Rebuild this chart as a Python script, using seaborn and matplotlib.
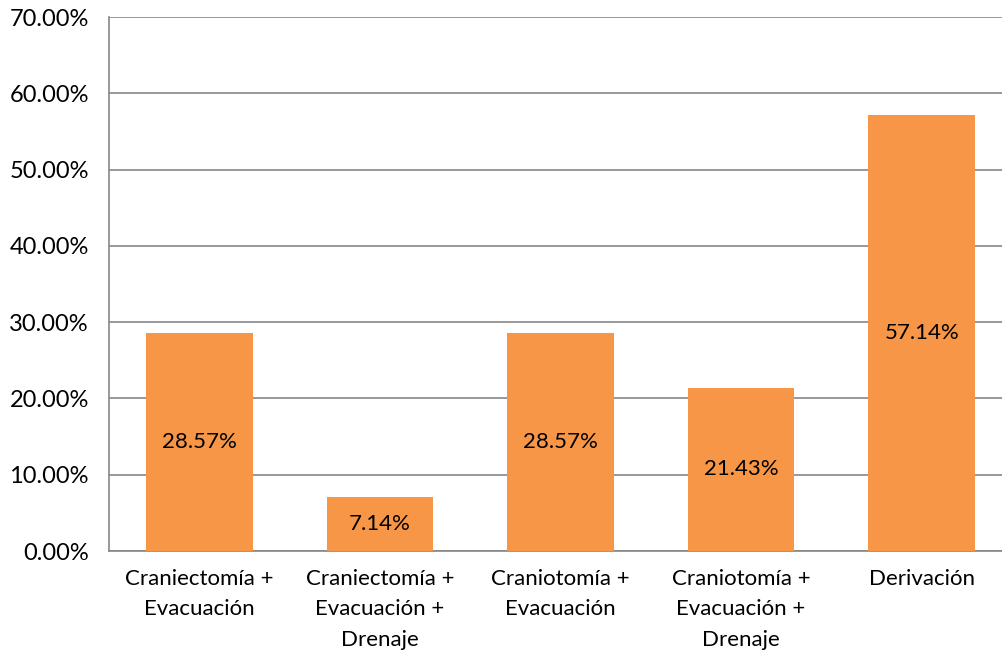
import matplotlib
matplotlib.use("Agg")
import matplotlib.pyplot as plt
import seaborn as sns
import pandas as pd
from matplotlib.ticker import FixedLocator, PercentFormatter

categories = ["Craniectomía +\nEvacuación",
              "Craniectomía +\nEvacuación +\nDrenaje",
              "Craniotomía +\nEvacuación",
              "Craniotomía +\nEvacuación +\nDrenaje",
              "Derivación"]
values = [28.57, 7.14, 28.57, 21.43, 57.14]

df = pd.DataFrame({"cat": categories, "pct": values})

sns.set_theme(style="white")
plt.rcParams["font.family"] = ["Lato", "DejaVu Sans"]

fig = plt.figure(figsize=(10.03, 6.59), dpi=100)
ax = fig.add_axes([109 / 1003, 108 / 659, (1003 - 109) / 1003, 534 / 659])

sns.barplot(data=df, x="cat", y="pct", color="#F79646", saturation=1,
            width=0.59, linewidth=0, ax=ax, zorder=3)

for i, v in enumerate(values):
    ax.text(i, v / 2, f"{v:.2f}%", ha="center", va="center",
            fontsize=16, color="black", zorder=4)

grid_c = "#868686"
ax.set_ylim(0, 70)
ax.set_xlim(-0.5, 4.45)
ax.yaxis.set_major_locator(FixedLocator(range(0, 71, 10)))
ax.yaxis.set_major_formatter(PercentFormatter(decimals=2))
ax.yaxis.grid(True, color=grid_c, linewidth=1.2, zorder=0)
ax.set_axisbelow(True)

ax.xaxis.set_minor_locator(FixedLocator([-0.5, 0.5, 1.5, 2.5, 3.5]))
ax.tick_params(axis="x", which="major", length=0, labelsize=16, pad=13,
               colors="black")
ax.tick_params(axis="x", which="minor", length=6, width=1.2, color=grid_c,
               direction="out")
ax.tick_params(axis="y", length=6.5, width=1.2, color=grid_c, direction="out",
               labelsize=17, labelcolor="black", pad=8)
for lbl in ax.get_xticklabels():
    lbl.set_linespacing(1.65)
ax.set_xlabel("")
ax.set_ylabel("")

for s in ["top", "right"]:
    ax.spines[s].set_visible(False)
for s in ["left", "bottom"]:
    ax.spines[s].set_color(grid_c)
    ax.spines[s].set_linewidth(1.2)

fig.savefig("out.png", dpi=100)
